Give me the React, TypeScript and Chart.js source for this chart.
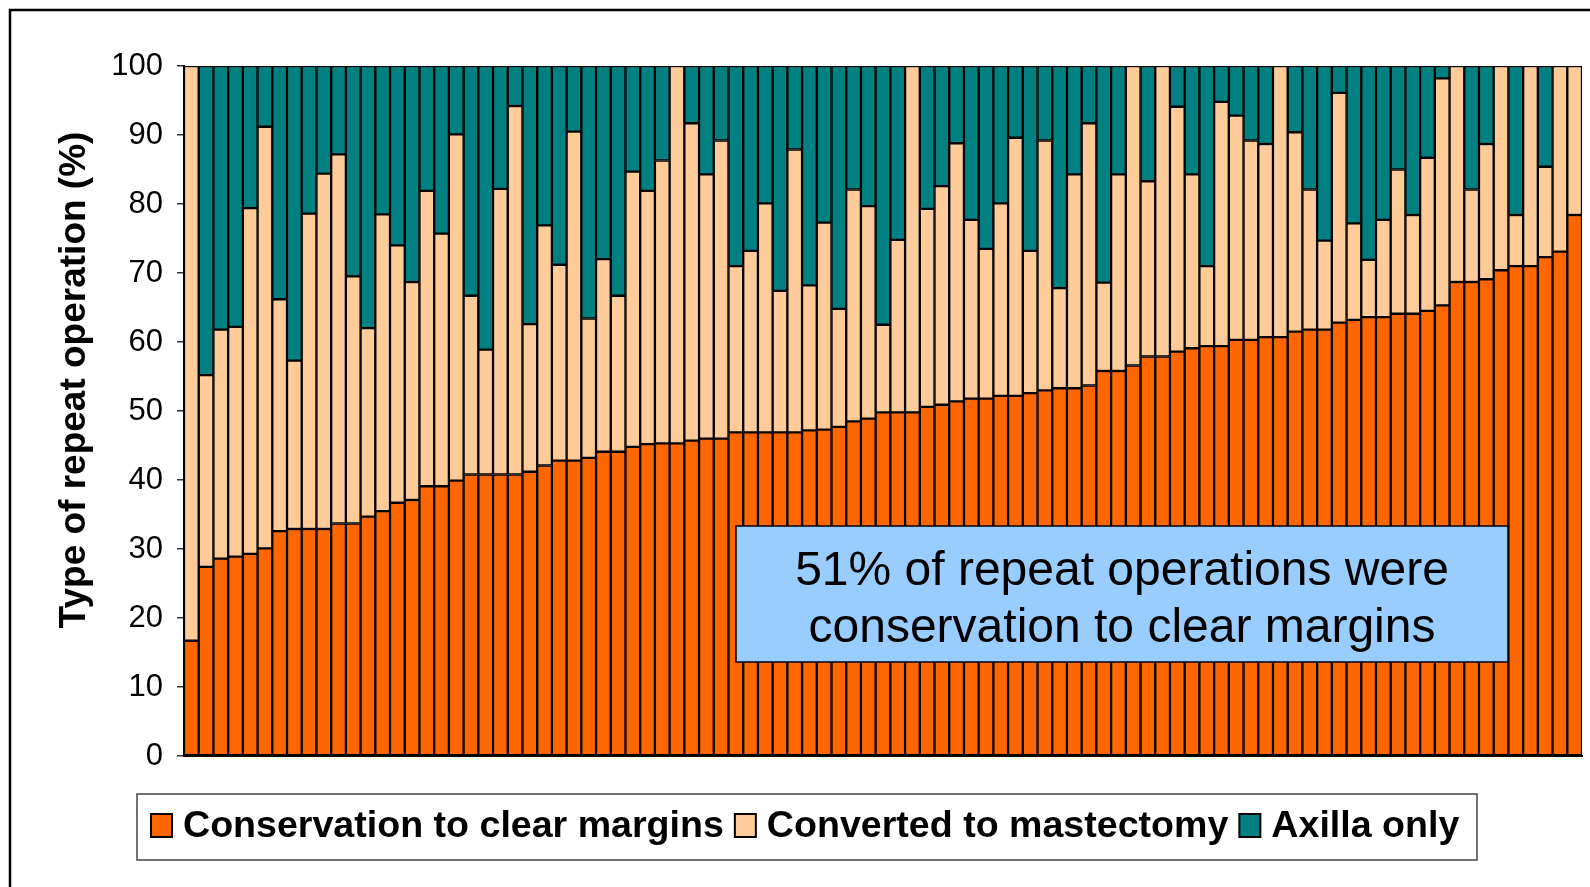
import React, { useEffect, useRef } from 'react';
import { Chart, registerables } from 'chart.js';

Chart.register(...registerables);

// Percentage of each repeat-operation type per unit (95 units, sorted by conservation rate)
const conservation = [
  16.7, 27.4, 28.6, 28.9, 29.3, 30.1, 32.6, 32.9, 32.9, 32.9,
  33.7, 33.7, 34.7, 35.5, 36.7, 37.1, 39.1, 39.1, 39.9, 40.8,
  40.8, 40.8, 40.8, 41.2, 42.1, 42.8, 42.8, 43.2, 44.1, 44.1,
  44.8, 45.2, 45.3, 45.3, 45.7, 46.0, 46.0, 46.9, 46.9, 46.9,
  46.9, 46.9, 47.2, 47.3, 47.7, 48.5, 48.9, 49.8, 49.8, 49.8,
  50.6, 50.9, 51.4, 51.8, 51.8, 52.2, 52.2, 52.6, 53.0, 53.3,
  53.3, 53.7, 55.8, 55.8, 56.6, 57.9, 57.9, 58.6, 59.1, 59.4,
  59.4, 60.3, 60.3, 60.7, 60.7, 61.5, 61.8, 61.8, 62.8, 63.2,
  63.6, 63.6, 64.1, 64.1, 64.5, 65.3, 68.7, 68.7, 69.1, 70.4,
  71.0, 71.0, 72.3, 73.1, 78.4,
];

const mastectomy = [
  83.3, 27.8, 33.2, 33.3, 50.1, 61.1, 33.6, 24.4, 45.7, 51.5,
  53.5, 35.8, 27.3, 43.0, 37.3, 31.6, 42.8, 36.6, 50.2, 25.9,
  18.1, 41.4, 53.4, 21.4, 34.8, 28.4, 47.7, 20.2, 27.9, 22.6,
  39.9, 36.7, 41.0, 54.7, 46.0, 38.3, 43.2, 24.1, 26.3, 33.2,
  20.5, 41.0, 21.0, 30.0, 17.1, 33.6, 30.8, 12.7, 25.0, 50.2,
  28.7, 31.7, 37.4, 25.9, 21.7, 27.9, 37.4, 20.6, 36.2, 14.5,
  31.0, 38.0, 12.8, 28.5, 43.4, 25.4, 42.1, 35.5, 25.2, 11.6,
  35.4, 32.5, 28.9, 28.0, 39.3, 28.9, 20.3, 12.9, 33.3, 14.0,
  8.3, 14.1, 20.9, 14.3, 22.2, 32.9, 31.3, 13.4, 19.6, 29.6,
  7.4, 29.0, 13.1, 26.9, 21.6,
];

const axillaOnly = [
  0, 44.8, 38.2, 37.8, 20.6, 8.8, 33.8, 42.7, 21.4, 15.6,
  12.8, 30.5, 38.0, 21.5, 26.0, 31.3, 18.1, 24.3, 9.9, 33.3,
  41.1, 17.8, 5.8, 37.4, 23.1, 28.8, 9.5, 36.6, 28.0, 33.3,
  15.3, 18.1, 13.7, 0, 8.3, 15.7, 10.8, 29.0, 26.8, 19.9,
  32.6, 12.1, 31.8, 22.7, 35.2, 17.9, 20.3, 37.5, 25.2, 0,
  20.7, 17.4, 11.2, 22.3, 26.5, 19.9, 10.4, 26.8, 10.8, 32.2,
  15.7, 8.3, 31.4, 15.7, 0, 16.7, 0, 5.9, 15.7, 29.0,
  5.2, 7.2, 10.8, 11.3, 0, 9.6, 17.9, 25.3, 3.9, 22.8,
  28.1, 22.3, 15.0, 21.6, 13.3, 1.8, 0, 17.9, 11.3, 0,
  21.6, 0, 14.6, 0, 0,
];

const categories = conservation.map((_, i) => `${i + 1}`);
const seriesLabels = ['Conservation to clear margins', 'Converted to mastectomy', 'Axilla only'];
const seriesColors = ['#FF6600', '#FFCC99', '#008080'];
const yTitle = 'Type of repeat operation (%)';
const noteLines = ['51% of repeat operations were', 'conservation to clear margins'];

const FONT = '"Liberation Sans", Arial, Helvetica, sans-serif';

const decorPlugin = {
  id: 'decor',
  afterDraw(chart: any) {
    const ctx: CanvasRenderingContext2D = chart.ctx;
    ctx.save();

    // outer frame
    ctx.strokeStyle = '#000';
    ctx.lineWidth = 2.5;
    ctx.strokeRect(10, 10, 1620, 920);

    // y-axis title
    ctx.save();
    ctx.translate(84.5, 380);
    ctx.rotate(-Math.PI / 2);
    ctx.font = `bold 37px ${FONT}`;
    ctx.fillStyle = '#000';
    ctx.textAlign = 'center';
    ctx.textBaseline = 'alphabetic';
    ctx.fillText(yTitle, 0, 0);
    ctx.restore();

    // annotation box
    ctx.fillStyle = '#99CCFF';
    ctx.fillRect(736, 526, 772, 136);
    ctx.strokeStyle = '#000';
    ctx.lineWidth = 1.5;
    ctx.strokeRect(736, 526, 772, 136);
    ctx.fillStyle = '#000';
    ctx.font = `48px ${FONT}`;
    ctx.textAlign = 'center';
    ctx.textBaseline = 'alphabetic';
    ctx.fillText(noteLines[0], 1122, 585);
    ctx.fillText(noteLines[1], 1122, 642);

    // legend box
    ctx.fillStyle = '#fff';
    ctx.fillRect(137, 794, 1340, 66);
    ctx.strokeStyle = '#444';
    ctx.lineWidth = 1.5;
    ctx.strokeRect(137, 794, 1340, 66);

    ctx.font = `bold 37.6px ${FONT}`;
    ctx.textAlign = 'left';
    const sq = 21;
    const gap = 11;
    const widths = seriesLabels.map((t) => ctx.measureText(t).width);
    let x = 151;
    seriesLabels.forEach((label, i) => {
      ctx.fillStyle = seriesColors[i];
      ctx.fillRect(x, 814, sq, 23);
      ctx.strokeStyle = '#000';
      ctx.lineWidth = 2;
      ctx.strokeRect(x, 814, sq, 23);
      x += sq + gap;
      ctx.fillStyle = '#000';
      ctx.fillText(label, x, 837);
      x += widths[i] + gap;
    });

    ctx.restore();
  },
};

export default function App() {
  const canvasRef = useRef<HTMLCanvasElement | null>(null);

  useEffect(() => {
    const canvas = canvasRef.current;
    if (!canvas) return;
    const chart = new Chart(canvas, {
      type: 'bar',
      data: {
        labels: categories,
        datasets: [
          { label: seriesLabels[0], data: conservation, backgroundColor: seriesColors[0] },
          { label: seriesLabels[1], data: mastectomy, backgroundColor: seriesColors[1] },
          { label: seriesLabels[2], data: axillaOnly, backgroundColor: seriesColors[2] },
        ].map((d) => ({
          ...d,
          borderColor: '#000',
          borderWidth: 1.5,
          borderSkipped: false as any,
          barPercentage: 1,
          categoryPercentage: 1,
        })),
      },
      options: {
        responsive: false,
        animation: false,
        devicePixelRatio: 1,
        layout: { padding: { top: 66, right: 8, bottom: 131, left: 0 } },
        plugins: {
          legend: { display: false },
          tooltip: { enabled: false },
          title: { display: false },
        },
        scales: {
          x: {
            stacked: true,
            grid: { display: false },
            ticks: { display: false },
            border: { display: true, color: '#000', width: 2 },
            afterFit: (s: any) => {
              s.height = 0;
            },
          },
          y: {
            stacked: true,
            min: 0,
            max: 100,
            ticks: {
              stepSize: 10,
              color: '#000',
              padding: 14,
              font: { family: FONT, size: 31 },
            },
            grid: { drawOnChartArea: false, tickLength: 7, color: '#333', lineWidth: 1.5 },
            border: { display: true, color: '#000', width: 2 },
            afterFit: (s: any) => {
              s.width = 184;
            },
          },
        },
      },
      plugins: [decorPlugin],
    });
    return () => chart.destroy();
  }, []);

  return (
    <div style={{ position: 'fixed', left: 0, top: 0, width: 1590, height: 887, background: '#fff' }}>
      <canvas ref={canvasRef} width={1590} height={887} style={{ display: 'block' }} />
    </div>
  );
}
